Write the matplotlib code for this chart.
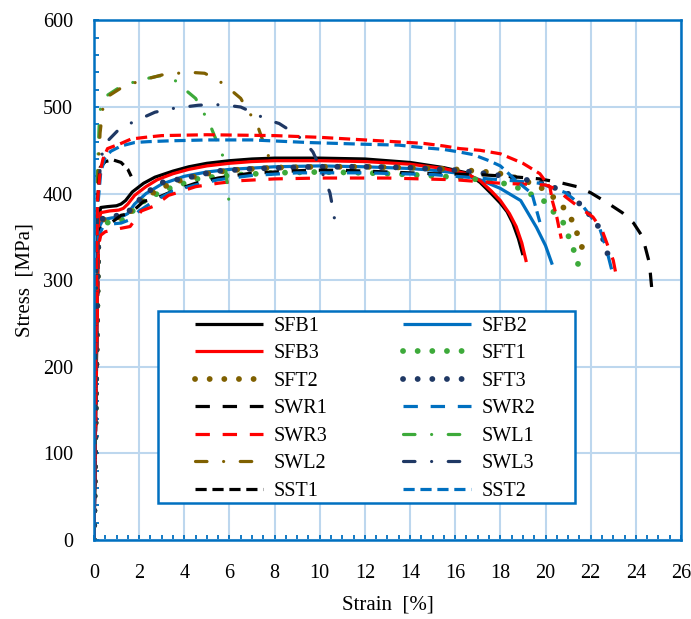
import numpy as np
import matplotlib.pyplot as plt
from matplotlib.patches import Rectangle
from matplotlib.ticker import MultipleLocator

# strain [%] / stress [MPa]
sfb1_e = [0, 0.1, 0.18, 0.3, 0.6, 1.0, 1.2, 1.4, 1.7, 2.2, 2.7, 3.5, 4.2, 5.0, 6, 7, 8, 10, 12, 14, 15.5, 16.5, 17.1, 17.6, 18.0, 18.3, 18.55, 18.8, 19.0]
sfb1_s = [0, 200, 370, 384, 385, 386, 388, 392, 402, 412, 419, 426, 431, 435, 438, 440, 441, 441, 440, 436, 430, 424, 413, 400, 389, 379, 366, 348, 329]

sfb2_e = [0, 0.1, 0.2, 0.4, 0.8, 1.2, 1.5, 1.8, 2.3, 3, 4, 5, 6, 8, 10, 12, 14, 15, 16, 17.1, 18, 18.9, 19.6, 20.0, 20.3]
sfb2_s = [0, 190, 360, 370, 372, 373, 377, 388, 400, 411, 420, 425, 428, 431, 432, 431, 429, 427, 424, 416, 406, 392, 361, 340, 318]

sfb3_e = [0, 0.1, 0.2, 0.3, 0.7, 1.1, 1.3, 1.5, 1.8, 2.3, 2.8, 3.5, 4.2, 5, 6, 7, 8, 10, 12, 14, 15.5, 16.5, 17.1, 17.6, 18.0, 18.4, 18.7, 18.95, 19.15]
sfb3_s = [0, 190, 365, 378, 380, 381, 383, 388, 398, 408, 416, 423, 428, 432, 435, 437, 438, 438, 437, 434, 429, 423, 415, 403, 392, 377, 362, 343, 321]

sft1_e = [0, 0.1, 0.2, 0.4, 0.8, 1.2, 1.5, 1.8, 2.3, 3.1, 4.7, 6.5, 8, 10, 12, 14, 16, 17.5, 18.5, 19.0, 19.6, 20.1, 20.4, 20.8, 21.0, 21.2, 21.4, 21.5]
sft1_s = [0, 190, 355, 365, 368, 369, 372, 383, 393, 404, 418, 422, 424, 425, 424, 422, 419, 415, 410, 404, 396, 389, 377, 366, 352, 338, 325, 309]

sft2_e = [0, 0.1, 0.2, 0.4, 0.8, 1.2, 1.5, 1.8, 2.3, 3, 4, 5, 6, 8, 10, 12, 14, 16, 17.4, 18.0, 18.6, 19.6, 20.1, 20.5, 20.9, 21.2, 21.4, 21.6, 21.7]
sft2_s = [0, 195, 360, 370, 372, 373, 376, 385, 396, 407, 417, 423, 427, 430, 431, 431, 430, 428, 425, 423, 419, 410, 402, 392, 381, 368, 354, 340, 326]

sft3_e = [0, 0.1, 0.2, 0.4, 0.8, 1.2, 1.5, 1.8, 2.5, 3.05, 4.25, 5.4, 7.2, 9.8, 12, 14, 16, 17.4, 18.5, 19.75, 20.9, 21.7, 22.4, 22.7, 22.9]
sft3_s = [0, 195, 360, 372, 374, 375, 378, 388, 404, 413, 419, 426, 429, 431, 431, 430, 427, 423, 419, 413, 402, 384, 360, 335, 317]

swr1_e = [0, 0.1, 0.2, 0.3, 0.6, 1.2, 1.6, 2.2, 2.7, 3.5, 4.5, 5.5, 6.8, 8, 9.5, 11, 13, 15, 17, 18.3, 19.75, 20.6, 21.4, 22.0, 22.7, 23.4, 23.9, 24.3, 24.6, 24.7]
swr1_s = [0, 180, 345, 360, 363, 375, 377, 391, 394, 403, 412, 418, 423, 425, 427, 427, 425, 423, 422, 420, 417, 413, 408, 401, 390, 378, 366, 350, 320, 292]

swr2_e = [0, 0.1, 0.2, 0.4, 0.8, 1.2, 1.6, 2.0, 2.7, 3.5, 4.5, 5.5, 7, 9, 12, 15, 17, 18.5, 19.75, 20.9, 21.7, 22.4, 22.7, 22.95]
swr2_s = [0, 185, 350, 362, 365, 366, 370, 380, 392, 403, 410, 416, 421, 424, 424, 422, 418, 415, 412, 401, 384, 360, 336, 310]

swr3_e = [0, 0.1, 0.2, 0.3, 0.5, 1.2, 1.6, 2.1, 2.7, 3.3, 3.8, 4.5, 5.5, 6.5, 8, 10, 13, 16, 18, 20.0, 20.5, 20.9, 21.5, 22.1, 22.5, 23.0, 23.15]
swr3_s = [0, 180, 340, 352, 356, 360, 362, 380, 386, 398, 402, 408, 412, 415, 417, 418, 418, 416, 412, 410, 405, 396, 384, 373, 358, 323, 303]

swl1_e = [0, 0.08, 0.15, 0.25, 0.5, 1.15, 2.0, 2.9, 3.5, 3.9, 4.5, 5.1, 5.6, 5.8, 6.0]
swl1_s = [0, 200, 420, 495, 512, 523, 531, 536, 533, 523, 510, 482, 450, 438, 385]

swl2_e = [0, 0.08, 0.15, 0.27, 0.4, 0.6, 1.2, 2.0, 3.0, 3.7, 4.3, 4.9, 5.5, 6.0, 6.5, 6.8, 7.2, 7.4, 7.6, 7.9]
swl2_s = [0, 200, 400, 470, 500, 512, 522, 530, 537, 539, 540, 539, 531, 521, 510, 496, 482, 467, 452, 432]

swl3_e = [0, 0.08, 0.15, 0.3, 0.5, 1.06, 1.6, 2.1, 2.7, 3.4, 4.0, 4.6, 5.2, 5.9, 6.5, 7.0, 7.7, 8.2, 8.8, 9.3, 9.7, 10.1, 10.45, 10.6, 10.75]
swl3_s = [0, 190, 380, 440, 458, 473, 481, 487, 494, 498, 500, 502, 503, 502, 500, 494, 485, 481, 471, 461, 448, 425, 401, 380, 354]

sst1_e = [0, 0.08, 0.15, 0.27, 0.5, 0.84, 1.2, 1.5, 1.65]
sst1_s = [0, 200, 390, 430, 437, 439, 436, 428, 420]

sst2_e = [0, 0.08, 0.15, 0.3, 0.5, 0.75, 1.2, 1.8, 2.4, 3.4, 5, 7, 9.5, 12, 13.5, 14.6, 15.5, 16.2, 16.8, 17.5, 18.0, 18.7, 19.4, 19.75]
sst2_s = [0, 190, 380, 425, 442, 449, 455, 459, 460, 461, 462, 462, 459, 457, 456, 453, 451, 448, 445, 438, 432, 415, 400, 367]

# red short-dash curve in the plot that has no legend entry
sst3_e = [0, 0.08, 0.15, 0.27, 0.4, 0.6, 1.2, 1.64, 2.26, 3, 5, 8, 10, 12, 14.6, 15.5, 16.2, 17.1, 18.0, 19.0, 19.75, 20.2, 20.3, 20.5, 20.6, 20.7]
sst3_s = [0, 200, 390, 425, 440, 452, 458, 463, 465, 467, 468, 467, 465, 462, 458, 455, 452, 450, 446, 435, 423, 407, 392, 373, 360, 348]

BLACK = "#000000"
BLUE = "#0070C0"
RED = "#FF0000"
GREEN = "#3DAA3A"
BROWN = "#7F6000"
NAVY = "#1F3864"

long_dash = (4.5, 4.0)
short_dash = (3.5, 1.8)
dash_dot = (3.6, 5.2, 0.01, 5.2)
dots = (0.01, 2.5)

series = [
    ("SFB1", sfb1_e, sfb1_s, BLACK, None),
    ("SFB2", sfb2_e, sfb2_s, BLUE, None),
    ("SFB3", sfb3_e, sfb3_s, RED, None),
    ("SFT1", sft1_e, sft1_s, GREEN, dots),
    ("SFT2", sft2_e, sft2_s, BROWN, dots),
    ("SFT3", sft3_e, sft3_s, NAVY, dots),
    ("SWR1", swr1_e, swr1_s, BLACK, long_dash),
    ("SWR2", swr2_e, swr2_s, BLUE, long_dash),
    ("SWR3", swr3_e, swr3_s, RED, long_dash),
    ("SWL1", swl1_e, swl1_s, GREEN, dash_dot),
    ("SWL2", swl2_e, swl2_s, BROWN, dash_dot),
    ("SWL3", swl3_e, swl3_s, NAVY, dash_dot),
    ("SST1", sst1_e, sst1_s, BLACK, short_dash),
    ("SST2", sst2_e, sst2_s, BLUE, short_dash),
    ("_SST3", sst3_e, sst3_s, RED, short_dash),
]

plt.rcParams['font.family'] = ['Liberation Serif', 'DejaVu Serif']

fig = plt.figure(figsize=(6.91, 6.19), dpi=100)
ax = fig.add_axes([0.136, 0.1276, 0.8495, 0.8394])

handles = {}
for name, e, s, col, dash in series:
    if dash is None:
        ln, = ax.plot(e, s, color=col, lw=2.3, solid_capstyle='butt', label=name)
    elif dash is dots:
        ln, = ax.plot(e, s, color=col, lw=4.2, label=name)
        ln.set_dashes(dash)
        ln.set_dash_capstyle('round')
    elif dash is dash_dot:
        ln, = ax.plot(e, s, color=col, lw=2.3, label=name)
        ln.set_dashes(dash)
        ln.set_dash_capstyle('round')
    else:
        ln, = ax.plot(e, s, color=col, lw=2.3, label=name)
        ln.set_dashes(dash)
    handles[name] = ln

ax.set_xlim(0, 26)
ax.set_ylim(0, 600)
ax.xaxis.set_major_locator(MultipleLocator(2))
ax.xaxis.set_minor_locator(MultipleLocator(0.5))
ax.yaxis.set_major_locator(MultipleLocator(100))
ax.yaxis.set_minor_locator(MultipleLocator(20))
ax.grid(True, which='major', color='#BDD7EE', lw=1.5)
ax.set_axisbelow(True)
for sp in ax.spines.values():
    sp.set_color(BLUE)
    sp.set_linewidth(1.8)
ax.tick_params(which='both', direction='in', color=BLUE, labelsize=14.5,
               width=1.3, length=3.5)
ax.tick_params(axis='x', pad=17)
ax.tick_params(axis='y', pad=15)
ax.set_xlabel("Strain  [%]", fontsize=15, labelpad=9)
ax.set_ylabel("Stress  [MPa]", fontsize=15, labelpad=6)

# legend frame drawn by hand, legend itself frameless on top of it
x0, y0 = 2.83, 43
ax.add_patch(Rectangle((x0, y0), 21.3 - x0, 265 - y0, facecolor='white',
                       edgecolor=BLUE, lw=1.8, zorder=4))
order = ["SFB1", "SFB3", "SFT2", "SWR1", "SWR3", "SWL2", "SST1",
         "SFB2", "SFT1", "SFT3", "SWR2", "SWL1", "SWL3", "SST2"]
leg = ax.legend([handles[n] for n in order], order, ncol=2, frameon=False,
                loc='upper left', bbox_to_anchor=(0.172, 0.43),
                fontsize=14.5, handlelength=3.4, handletextpad=0.5,
                columnspacing=3.75, labelspacing=0.42, borderpad=0,
                borderaxespad=0)
leg.set_zorder(5)

fig.savefig("out.png", dpi=100)
